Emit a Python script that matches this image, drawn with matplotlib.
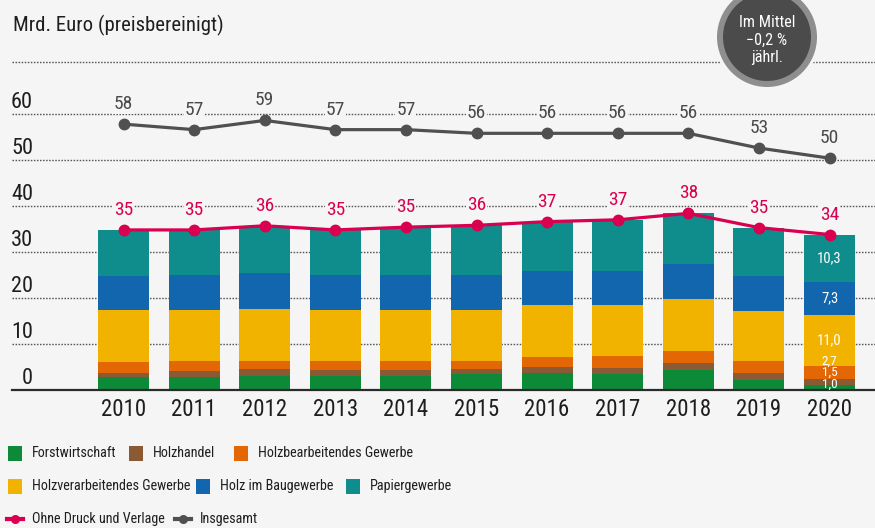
import matplotlib
matplotlib.use("Agg")
import matplotlib.pyplot as plt
from matplotlib.patches import Circle, Rectangle
from matplotlib.lines import Line2D
from matplotlib.font_manager import FontProperties, fontManager
from matplotlib.textpath import TextPath
import numpy as np

# ---------------- data ----------------
years = ['2010', '2011', '2012', '2013', '2014', '2015', '2016', '2017', '2018', '2019', '2020']
forst = [2.8, 2.8, 3.0, 3.0, 3.0, 3.5, 3.6, 3.5, 4.3, 2.2, 1.0]
handel = [1.0, 1.3, 1.5, 1.3, 1.3, 1.0, 1.4, 1.3, 1.5, 1.4, 1.5]
bearb = [2.2, 2.1, 1.7, 2.1, 2.1, 1.9, 2.1, 2.5, 2.6, 2.6, 2.7]
verarb = [11.3, 11.1, 11.5, 11.1, 11.1, 11.1, 11.3, 11.1, 11.3, 10.9, 11.0]
bau = [7.5, 7.7, 7.7, 7.4, 7.4, 7.4, 7.4, 7.4, 7.7, 7.7, 7.3]
papier = [10.0, 9.8, 10.3, 9.9, 10.5, 10.9, 10.8, 11.2, 11.0, 10.5, 10.3]
ohne = [34.8, 34.8, 35.7, 34.8, 35.4, 35.8, 36.6, 37.0, 38.4, 35.3, 33.8]
insgesamt = [57.8, 56.6, 58.6, 56.6, 56.6, 55.8, 55.8, 55.8, 55.8, 52.6, 50.4]
yticks = [0, 10, 20, 30, 40, 50, 60]

series_names = ['Forstwirtschaft', 'Holzhandel', 'Holzbearbeitendes Gewerbe',
                'Holzverarbeitendes Gewerbe', 'Holz im Baugewerbe', 'Papiergewerbe']
line_names = ['Ohne Druck und Verlage', 'Insgesamt']
title = 'Mrd. Euro (preisbereinigt)'
badge_lines = ['Im Mittel', '\u22120,2 %', 'jährl.']


# ---------------- font selection (prefer a narrow face) ----------------
def pick_font():
    names = {f.name for f in fontManager.ttflist}
    for n in ['Liberation Sans Narrow', 'Roboto Condensed', 'Open Sans Condensed',
              'Noto Sans Condensed', 'DejaVu Sans Condensed', 'Noto Sans Display Condensed']:
        if n in names:
            return n, 'normal'
    for f in fontManager.ttflist:
        if str(f.stretch) in ('condensed', 'semi-condensed', 'extra-condensed') and \
                f.name in ('Roboto', 'Open Sans', 'Noto Sans', 'DejaVu Sans', 'Lato', 'Inter'):
            return f.name, str(f.stretch)
    return 'Liberation Sans', 'normal'


FAM, STR = pick_font()
plt.rcParams['font.family'] = [FAM, 'DejaVu Sans']
plt.rcParams['font.stretch'] = STR
FP = FontProperties(family=FAM, stretch=STR)


def width_px(s, size):
    tp = TextPath((0, 0), s, size=size, prop=FP)
    return tp.get_extents().width * 100 / 72


def fit(s, target, cap):
    return min(cap, 10 * target / width_px(s, 10))


# ---------------- style ----------------
BG = '#f5f5f5'
seg_colors = ['#0c8a37', '#8a5a34', '#e36805', '#f1b300', '#1166ad', '#0f8c8c']
c_ohne = '#d9004f'
c_ges = '#505050'
TXT = '#1e1e1e'

fs_title = fit(title, 207, 15)
fs_year = fit('2010', 43, 16.5)
fs_tick = fit('60', 20, 16)
fs_val = fit('58', 17.5, 14)
fs_bar = fit('10,3', 23, 10.5)
fs_badge = fit('Im Mittel', 54, 12)
leg_targets = [71, 54, 137, 140, 99, 72]
fs_leg = min(fit(n, t, 14) for n, t in zip(series_names, leg_targets))
fs_leg = min(fs_leg, fit(line_names[0], 117, 14), fit(line_names[1], 50, 14))
fs_leg = min(13, fs_leg * 1.17)   # reference face is taller; allow a little extra

W, H = 875, 528
fig = plt.figure(figsize=(W / 100, H / 100), dpi=100, facecolor=BG)

# main axes: baseline at y=390 px, 4.6 px per unit, 70.6 px per year
x0px, base_px, top_px = 12, 390, 62
ppu = 4.6
ymax = (base_px - top_px) / ppu
ax = fig.add_axes([x0px / W, (H - base_px) / H, (W - x0px) / W, (base_px - top_px) / H])
ax.set_facecolor('none')
step = 70.6
ax.set_xlim(-(123.5 - x0px) / step, (W - 123.5) / step)
ax.set_ylim(0, ymax)
for s in ['top', 'right', 'left']:
    ax.spines[s].set_visible(False)
ax.spines['bottom'].set_color('#2a2a2a')
ax.spines['bottom'].set_linewidth(1.6)
ax.set_xticks([])
ax.set_yticks([])

x = np.arange(len(years))

# grid lines (dotted)
for v in yticks[1:] + [ymax]:
    ax.axhline(v, color='#555555', lw=1.0, linestyle=(0, (1.1, 1.1)), zorder=0, clip_on=False)

# y tick labels above their grid lines
for v in yticks:
    ax.text((33 - x0px) / (W - x0px), v + 12 / ppu, str(v), transform=ax.get_yaxis_transform(),
            ha='right', va='center', fontsize=fs_tick, color=TXT)

# stacked bars
segments = [forst, handel, bearb, verarb, bau, papier]
bottom = np.zeros(len(years))
for vals, col in zip(segments, seg_colors):
    ax.bar(x, vals, width=0.72, bottom=bottom, color=col, edgecolor='none', zorder=2)
    bottom += np.array(vals)

# lines
ax.plot(x, insgesamt, color=c_ges, lw=2.3, marker='o', ms=7.5, zorder=3)
ax.plot(x, ohne, color=c_ohne, lw=2.3, marker='o', ms=7.5, zorder=3)

for xi, v in zip(x, insgesamt):
    ax.text(xi, v + 20 / ppu, f"{round(v)}", ha='center', va='center', fontsize=fs_val,
            color='#4a4a4a', zorder=4, bbox=dict(facecolor=BG, edgecolor='none', pad=0.5))
for xi, v in zip(x, ohne):
    ax.text(xi, v + 20 / ppu, f"{round(v)}", ha='center', va='center', fontsize=fs_val,
            color=c_ohne, zorder=4, bbox=dict(facecolor=BG, edgecolor='none', pad=0.5))

# year labels
for xi, yr in zip(x, years):
    ax.text(xi, -20 / ppu, yr, ha='center', va='center', fontsize=fs_year, color=TXT, clip_on=False)

# segment labels for the last bar
last = len(years) - 1
cum = 0.0
small_y = [1.3, 3.8, 6.3]
for k, vals in enumerate(segments):
    v = vals[last]
    ypos = small_y[k] if k < 3 else cum + v / 2
    ax.text(x[last], ypos, f"{v:.1f}".replace('.', ','), ha='center', va='center',
            fontsize=min(fs_bar, 9.5) if k < 3 else fs_bar, color='white', zorder=4)
    cum += v

# ---------------- overlay (pixel coordinates) ----------------
ov = fig.add_axes([0, 0, 1, 1], zorder=10)
ov.set_xlim(0, W)
ov.set_ylim(H, 0)
ov.axis('off')
ov.patch.set_alpha(0)

ov.text(13, 25, title, ha='left', va='center', fontsize=fs_title, color=TXT)

# badge
cx, cy = 767, 37
ov.add_patch(Circle((cx, cy), 53, facecolor=BG, edgecolor='none'))
ov.add_patch(Circle((cx, cy), 50, facecolor='#8e8e8e', edgecolor='none'))
ov.add_patch(Circle((cx, cy), 44, facecolor='#4b4b4b', edgecolor='none'))
for i, t in enumerate(badge_lines):
    ov.text(cx, 22.5 + i * 17.5, t, ha='center', va='center', fontsize=fs_badge, color='white')

# legend
leg_patch = [(8, 453), (129, 453), (234, 453), (8, 486), (196, 486), (346, 486)]
for (px, py), name, col in zip(leg_patch, series_names, seg_colors):
    ov.add_patch(Rectangle((px, py - 7.5), 14, 15, facecolor=col, edgecolor='none'))
    ov.text(px + 24, py, name, ha='left', va='center', fontsize=fs_leg, color=TXT)

leg_line = [(7, 519), (175, 519)]
for (px, py), name, col in zip(leg_line, line_names, [c_ohne, c_ges]):
    ov.add_line(Line2D([px, px + 16], [py, py], color=col, lw=3))
    ov.add_line(Line2D([px + 8], [py], color=col, marker='o', ms=5.5))
    ov.text(px + 25, py, name, ha='left', va='center', fontsize=fs_leg, color=TXT)

fig.savefig('out.png', dpi=100, facecolor=BG)
